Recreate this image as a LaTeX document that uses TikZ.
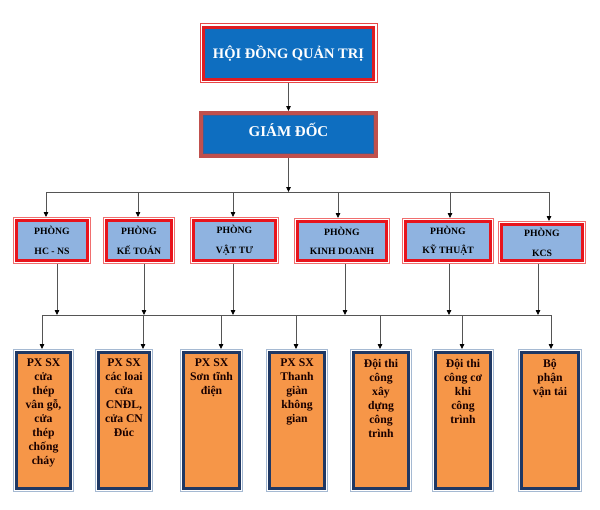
\documentclass[tikz,border=0pt]{standalone}
\usepackage{fontspec}
\setmainfont{Liberation Serif}
\usetikzlibrary{arrows.meta}
\definecolor{hdblue}{RGB}{14,110,192}
\definecolor{hdred}{RGB}{222,28,34}
\definecolor{hdframe}{RGB}{232,70,70}
\definecolor{gdred}{RGB}{192,80,77}
\definecolor{gdinner}{RGB}{60,95,150}
\definecolor{pblue}{RGB}{143,179,224}
\definecolor{pred}{RGB}{232,20,28}
\definecolor{pframe}{RGB}{240,110,110}
\definecolor{rorange}{RGB}{246,150,72}
\definecolor{rnavy}{RGB}{31,56,100}
\definecolor{rframe}{RGB}{165,185,210}
\definecolor{linegray}{RGB}{85,85,85}
\newcommand\frameit[2]{\draw[#1] ([shift={(0.4pt,-0.4pt)}]#2.north west) rectangle ([shift={(-0.4pt,0.4pt)}]#2.south east);}
\begin{document}
\begin{tikzpicture}[x=1pt,y=-1pt,
  conn/.style={draw=linegray, line width=0.8pt},
  arr/.style={conn, -{Triangle[length=5pt,width=4.5pt,color=black]}},
  topbox/.style={draw=hdred, line width=3pt, fill=hdblue, inner sep=0, outer sep=4pt,
    text=white, font=\bfseries\fontsize{14.5}{16}\selectfont},
  gdbox/.style={draw=gdred, line width=4pt, fill=hdblue, inner sep=0,
    text=white, font=\bfseries\fontsize{15}{17}\selectfont},
  pbox/.style={draw=pred, line width=2.6pt, fill=pblue, inner sep=0, outer sep=3.5pt,
    align=center, font=\bfseries\fontsize{9.7}{19.5}\selectfont},
  rbox/.style={draw=rnavy, line width=3.5pt, fill=rorange, inner sep=0, outer sep=3.5pt,
    minimum height=136pt},
  rtext/.style={anchor=north, inner sep=0, align=center, yshift=-10pt,
    text=black!90!red, font=\bfseries\fontsize{11.7}{14}\selectfont},
  thinframe/.style={line width=0.8pt}
]
\useasboundingbox (0,0) rectangle (600,509);

% top levels
\node[topbox, minimum width=170pt, minimum height=52pt] (top) at (288.5,53) {HỘI ĐỒNG QUẢN TRỊ};
\frameit{thinframe, draw=hdframe}{top}
\node[gdbox, minimum width=175pt, minimum height=43pt] (gd) at (288.5,134.5) {\raisebox{9pt}{GIÁM ĐỐC}};
\draw[gdinner, line width=0.8pt] ([shift={(4.4pt,-4.4pt)}]gd.north west) rectangle ([shift={(-4.4pt,4.4pt)}]gd.south east);

% departments
\node[pbox, minimum width=71pt, minimum height=40pt] (p1) at (52,240.5) {PHÒNG\\HC - NS};
\node[pbox, minimum width=65pt, minimum height=40pt] (p2) at (139,240.5) {PHÒNG\\KẾ TOÁN};
\node[pbox, minimum width=82pt, minimum height=40pt] (p3) at (234.5,240.5) {PHÒNG\\VẬT TƯ};
\node[pbox, minimum width=89pt, minimum height=39pt] (p4) at (342,241) {PHÒNG\\KINH DOANH};
\node[pbox, minimum width=85pt, minimum height=39pt] (p5) at (448,241) {PHÒNG\\KỸ THUẬT};
\node[pbox, minimum width=81pt, minimum height=36pt] (p6) at (542,242.5) {PHÒNG\\KCS};
\foreach \n in {p1,p2,p3,p4,p5,p6}{\frameit{thinframe, draw=pframe}{\n}}

% units
\node[rbox, minimum width=54pt] (r1) at (43.5,420.5) {};
\node[rbox, minimum width=51pt] (r2) at (124,420.5) {};
\node[rbox, minimum width=56pt] (r3) at (211.5,420.5) {};
\node[rbox, minimum width=55pt] (r4) at (297,420.5) {};
\node[rbox, minimum width=55pt] (r5) at (381,420.5) {};
\node[rbox, minimum width=55pt] (r6) at (463,420.5) {};
\node[rbox, minimum width=57pt] (r7) at (550,420.5) {};
\foreach \n in {r1,r2,r3,r4,r5,r6,r7}{\frameit{thinframe, draw=rframe}{\n}}

\node[rtext] (t1) at (r1.north) {PX SX\\cửa\\thép\\vân gỗ,\\cửa\\thép\\chống\\cháy};
\node[rtext] (t2) at (r2.north) {PX SX\\các loai\\cửa\\CNĐL,\\cửa CN\\Đúc};
\node[rtext] (t3) at (r3.north) {PX SX\\Sơn tĩnh\\điện};
\node[rtext] (t4) at (r4.north) {PX SX\\Thanh\\giàn\\không\\gian};
\node[rtext] (t5) at (r5.north) {Đội thi\\công\\xây\\dựng\\công\\trình};
\node[rtext] (t6) at (r6.north) {Đội thi\\công cơ\\khi\\công\\trình};
\node[rtext] (t7) at (r7.north) {Bộ\\phận\\vận tải};

% connectors top
\draw[arr] (top.south) -- (gd.north);
\coordinate (b1) at (288.5,192);
\draw[arr] (gd.south) -- (b1);
\coordinate (d1) at (46,192);
\coordinate (d2) at (138,192);
\coordinate (d3) at (233,192);
\coordinate (d4) at (338,192);
\coordinate (d5) at (450,192);
\coordinate (d6) at (549,192);
\draw[conn] (d1) -- (d6);
\draw[arr] (d1) -- (d1 |- p1.north);
\draw[arr] (d2) -- (d2 |- p2.north);
\draw[arr] (d3) -- (d3 |- p3.north);
\draw[arr] (d4) -- (d4 |- p4.north);
\draw[arr] (d5) -- (d5 |- p5.north);
\draw[arr] (d6) -- (d6 |- p6.north);

% connectors second bus
\coordinate (u1) at (57,315);
\coordinate (u2) at (144,315);
\coordinate (u3) at (233,315);
\coordinate (u4) at (345,315);
\coordinate (u5) at (449,315);
\coordinate (u6) at (538,315);
\draw[arr] (u1 |- p1.south) -- (u1);
\draw[arr] (u2 |- p2.south) -- (u2);
\draw[arr] (u3 |- p3.south) -- (u3);
\draw[arr] (u4 |- p4.south) -- (u4);
\draw[arr] (u5 |- p5.south) -- (u5);
\draw[arr] (u6 |- p6.south) -- (u6);
\coordinate (v1) at (42,315);
\coordinate (v2) at (143,315);
\coordinate (v3) at (221,315);
\coordinate (v4) at (296,315);
\coordinate (v5) at (380,315);
\coordinate (v6) at (462,315);
\coordinate (v7) at (551,315);
\draw[conn] (v1) -- (v7);
\draw[arr] (v1) -- (v1 |- r1.north);
\draw[arr] (v2) -- (v2 |- r2.north);
\draw[arr] (v3) -- (v3 |- r3.north);
\draw[arr] (v4) -- (v4 |- r4.north);
\draw[arr] (v5) -- (v5 |- r5.north);
\draw[arr] (v6) -- (v6 |- r6.north);
\draw[arr] (v7) -- (v7 |- r7.north);
\end{tikzpicture}
\end{document}
